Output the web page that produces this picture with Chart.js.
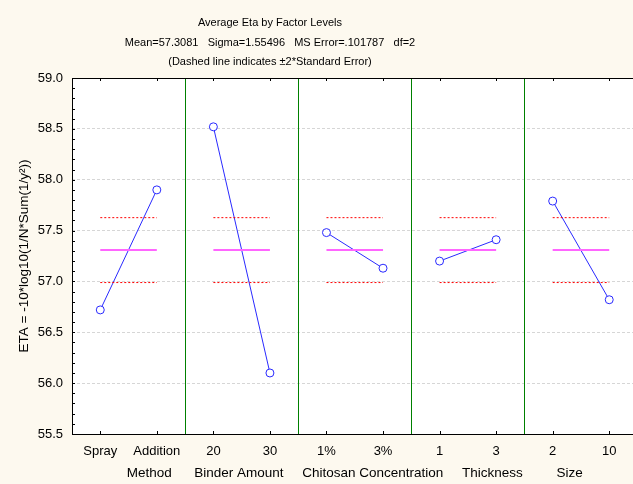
<!DOCTYPE html>
<html>
<head>
<meta charset="utf-8">
<script src="https://cdn.jsdelivr.net/npm/chart.js@4.4.0/dist/chart.umd.min.js"></script>
<style>
  html, body { margin: 0; padding: 0; background: #fdf9ef; overflow: hidden; }
  #wrap { width: 633px; height: 484px; overflow: hidden; }
</style>
</head>
<body>
<div id="wrap"><canvas id="etaChart" width="638" height="484"></canvas></div>
<script>
// Niveles de cada factor (eje X)
const levels = ['Spray', 'Addition', '20', '30', '1%', '3%', '1', '3', '2', '10'];
const factors = ['Method', 'Binder Amount', 'Chitosan Concentration', 'Thickness', 'Size'];
// Media de ETA por nivel
const etaMeans = [56.72, 57.90, 58.52, 56.10, 57.48, 57.13, 57.20, 57.41, 57.79, 56.82];
// Media global y limites +-2*SE
const grandMean = 57.3081;
const upperLimit = 57.627;
const lowerLimit = 56.989;
const titleLines = [
    'Average Eta by Factor Levels',
    'Mean=57.3081   Sigma=1.55496   MS Error=.101787   df=2',
    '(Dashed line indicates \u00b12*Standard Error)'
];

const FONT = "'Liberation Sans', Arial, sans-serif";

// solo dibujar segmentos dentro de cada factor (pares 0-1, 2-3, ...)
const withinFactor = { borderColor: ctx => (ctx.p0DataIndex % 2 === 1 ? 'transparent' : undefined) };

// Fondo blanco del area, marco, separadores verdes, marcas interiores y titulo
const framePlugin = {
    id: 'frame',
    beforeDraw(chart) {
        const { ctx, chartArea: a } = chart;
        ctx.save();
        ctx.fillStyle = '#ffffff';
        ctx.fillRect(a.left, a.top, a.right - a.left, a.bottom - a.top);
        ctx.restore();
    },
    afterDatasetsDraw(chart) {
        const { ctx, chartArea: a, scales } = chart;
        ctx.save();
        ctx.strokeStyle = '#008000';
        ctx.lineWidth = 1;
        for (let i = 2; i < levels.length; i += 2) {
            const x = Math.round((scales.x.getPixelForValue(i - 1) + scales.x.getPixelForValue(i)) / 2) + 0.5;
            ctx.beginPath();
            ctx.moveTo(x, a.top);
            ctx.lineTo(x, a.bottom);
            ctx.stroke();
        }
        ctx.restore();
    },
    afterDraw(chart) {
        const { ctx, chartArea: a, scales } = chart;
        ctx.save();
        ctx.strokeStyle = '#000';
        ctx.lineWidth = 1;
        ctx.strokeRect(a.left + 0.5, a.top + 0.5, a.right - a.left - 1, a.bottom - a.top);
        // marcas hacia dentro
        ctx.beginPath();
        scales.y.ticks.forEach(t => {
            const y = Math.round(scales.y.getPixelForValue(t.value)) + 0.5;
            ctx.moveTo(a.left, y);
            ctx.lineTo(a.left + 3, y);
        });
        scales.x.ticks.forEach((t, i) => {
            const x = Math.round(scales.x.getPixelForValue(i)) + 0.5;
            ctx.moveTo(x, a.top);
            ctx.lineTo(x, a.top + 3);
            ctx.moveTo(x, a.bottom);
            ctx.lineTo(x, a.bottom - 3);
        });
        ctx.stroke();
        ctx.fillStyle = '#000';
        ctx.font = '11px ' + FONT;
        ctx.textAlign = 'center';
        ctx.textBaseline = 'middle';
        titleLines.forEach((t, i) => ctx.fillText(t, 270, 23 + i * 19.5));
        ctx.restore();
    }
};

new Chart(document.getElementById('etaChart'), {
    type: 'line',
    data: {
        labels: levels,
        datasets: [
            {
                label: 'Upper',
                data: levels.map(() => upperLimit),
                borderColor: '#ff0000',
                borderWidth: 1,
                borderDash: [2, 2],
                pointRadius: 0,
                segment: withinFactor
            },
            {
                label: 'Lower',
                data: levels.map(() => lowerLimit),
                borderColor: '#ff0000',
                borderWidth: 1,
                borderDash: [2, 2],
                pointRadius: 0,
                segment: withinFactor
            },
            {
                label: 'Mean',
                data: levels.map(() => grandMean),
                borderColor: '#ff66ff',
                borderWidth: 2,
                pointRadius: 0,
                segment: withinFactor
            },
            {
                label: 'ETA',
                data: etaMeans,
                borderColor: '#2a2aff',
                borderWidth: 1,
                pointRadius: 4,
                pointBorderColor: '#2a2aff',
                pointBackgroundColor: '#ffffff',
                pointBorderWidth: 1,
                segment: withinFactor
            }
        ]
    },
    options: {
        responsive: false,
        animation: false,
        layout: { autoPadding: false, padding: { top: 78, right: 0.5, left: 0, bottom: 0 } },
        plugins: {
            legend: { display: false },
            tooltip: { enabled: false }
        },
        scales: {
            x: {
                type: 'category',
                offset: true,
                afterFit: s => { s.height = 50; },
                grid: { display: false, drawTicks: false },
                border: { display: false },
                ticks: { color: '#000', padding: 10, font: { family: FONT, size: 13 }, maxRotation: 0, autoSkip: false },
                title: {
                    display: true,
                    text: 'Method      Binder Amount     Chitosan Concentration     Thickness         Size',
                    color: '#000',
                    font: { family: FONT, size: 13.5 },
                    padding: { top: 0, bottom: 3 }
                }
            },
            y: {
                min: 55.5,
                max: 59.0,
                afterFit: s => { s.width = 72; },
                border: { display: false, dash: [3, 2] },
                grid: {
                    color: c => (Math.round(c.tick.value * 10) % 5 === 0 ? '#d6d6d6' : 'transparent'),
                    drawTicks: false
                },
                ticks: {
                    stepSize: 0.1,
                    autoSkip: false,
                    color: '#000',
                    padding: 9,
                    font: { family: FONT, size: 13 },
                    callback: v => (Math.round(v * 10) % 5 === 0 ? v.toFixed(1) : '')
                },
                title: {
                    display: true,
                    text: 'ETA = -10*log10(1/N*Sum(1/y\u00b2))',
                    color: '#000',
                    font: { family: FONT, size: 13.5 },
                    padding: { top: 16, bottom: 0 }
                }
            }
        }
    },
    plugins: [framePlugin]
});
</script>
</body>
</html>
